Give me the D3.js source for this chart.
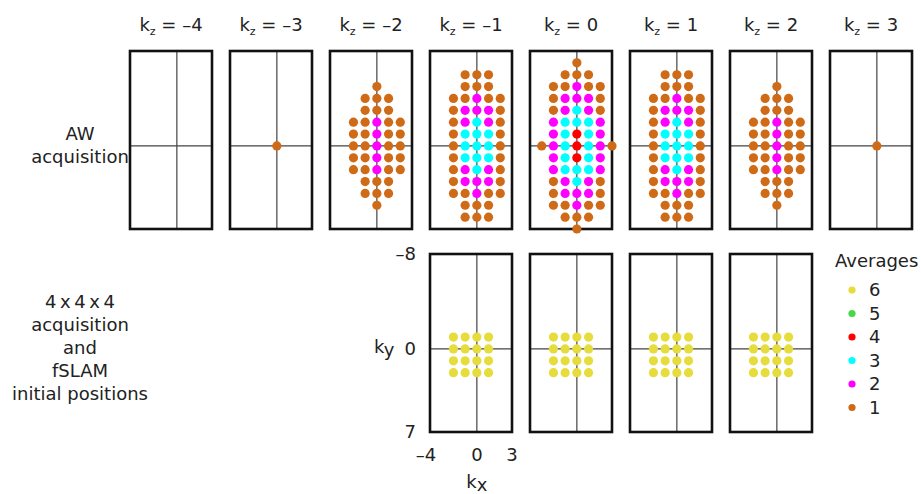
<!DOCTYPE html>
<html>
<head>
<meta charset="utf-8">
<script src="https://cdn.jsdelivr.net/npm/d3@7"></script>
<style>
  body { margin: 0; background: #fff; }
  svg text { font-family: "DejaVu Sans", Verdana, sans-serif; fill: #222; }
</style>
</head>
<body>
<main></main>
<script>
// k-space sampling
const kzValues = [-4, -3, -2, -1, 0, 1, 2, 3];
const kyRowsStart = -7;           // first row of every pattern is ky = -7
const kxColsStart = -3;           // first char of every row is kx = -3

// one string per ky row (-7..7), one char per kx (-3..3), digit = averages, '.' = none
const awEmpty = [
  '.......', '.......', '.......', '.......', '.......', '.......', '.......', '.......',
  '.......', '.......', '.......', '.......', '.......', '.......', '.......'
];
const awCenter = [
  '.......', '.......', '.......', '.......', '.......', '.......', '.......', '...1...',
  '.......', '.......', '.......', '.......', '.......', '.......', '.......'
];
const awOuter = [
  '.......', '.......', '...1...', '..111..', '..111..', '.11211.', '.11211.', '.11211.',
  '.11211.', '.11211.', '..111..', '..111..', '...1...', '.......', '.......'
];
const awInner = [
  '.......', '..111..', '..111..', '.11211.', '.12221.', '.12321.', '.13331.', '.13331.',
  '.13331.', '.12321.', '.12221.', '.11211.', '..111..', '..111..', '.......'
];
const awMiddle = [
  '...1...', '..111..', '.11211.', '.12221.', '.12321.', '.23332.', '.23432.', '1234321',
  '.23432.', '.23332.', '.12321.', '.12221.', '.11211.', '..111..', '...1...'
];
const awPatterns = [awEmpty, awCenter, awOuter, awInner, awMiddle, awInner, awOuter, awCenter];

// 4x4x4 acquisition / fSLAM initial positions
const fslamKz = [-1, 0, 1, 2];
const fslamKx = [-2, -1, 0, 1];
const fslamKy = [-1, 0, 1, 2];
const fslamAverages = 6;

const legendLevels = [6, 5, 4, 3, 2, 1];
const levelColors = ['#cf6a17', '#ff00ff', '#00ffff', '#ff0000', '#47d847', '#e6dc3b'];

const kxDomain = [-4, 3];
const kyDomain = [-8, 7];
const kxTicks = [-4, 0, 3];
const kyTicks = [-8, 0, 7];

const width = 921;
const height = 494;
const panelW = 82;
const panelH = 178;
const topY = 51;
const bottomY = 254;
const dotR = 4.6;
const fs = 18;

function toPoints(pattern) {
  const pts = [];
  pattern.forEach((row, r) => {
    row.split('').forEach((c, k) => {
      if (c !== '.') pts.push({ kx: kxColsStart + k, ky: kyRowsStart + r, avg: +c });
    });
  });
  return pts;
}

const svg = d3.select('main').append('svg')
    .attr('width', width)
    .attr('height', height);

const panelX = d3.scaleLinear().domain([-4, 3]).range([130, 830]);
const kx = d3.scaleLinear().domain(kxDomain).range([0, panelW]);
const ky = d3.scaleLinear().domain(kyDomain).range([0, panelH]);
const color = d3.scaleOrdinal().domain([1, 2, 3, 4, 5, 6]).range(levelColors);

function drawPanel(g, points) {
  g.append('line')
      .attr('x1', kx(0)).attr('x2', kx(0))
      .attr('y1', 0).attr('y2', panelH)
      .attr('stroke', '#444').attr('stroke-width', 1.2);
  g.append('line')
      .attr('x1', 0).attr('x2', panelW)
      .attr('y1', ky(0)).attr('y2', ky(0))
      .attr('stroke', '#444').attr('stroke-width', 1.2);
  g.append('rect')
      .attr('width', panelW).attr('height', panelH)
      .attr('fill', 'none')
      .attr('stroke', '#111')
      .attr('stroke-width', 2.6);
  g.selectAll('circle')
    .data(points)
    .enter().append('circle')
      .attr('cx', d => kx(d.kx))
      .attr('cy', d => ky(d.ky))
      .attr('r', dotR)
      .attr('fill', d => color(d.avg));
}

// column titles
kzValues.forEach(kz => {
  const t = svg.append('text')
      .attr('x', panelX(kz) + panelW / 2)
      .attr('y', 31)
      .attr('text-anchor', 'middle')
      .attr('font-size', fs);
  t.append('tspan').text('k');
  t.append('tspan').text('z').attr('font-size', 11).attr('dy', 4);
  t.append('tspan').text(' = ' + (kz < 0 ? '\u2013' + Math.abs(kz) : kz)).attr('dy', -4);
});

// top row: AW acquisition
kzValues.forEach((kz, i) => {
  const g = svg.append('g').attr('transform', `translate(${panelX(kz)},${topY})`);
  drawPanel(g, toPoints(awPatterns[i]));
});

// bottom row: 4x4x4 grid
const gridPoints = [];
fslamKy.forEach(y => fslamKx.forEach(x => gridPoints.push({ kx: x, ky: y, avg: fslamAverages })));
fslamKz.forEach(kz => {
  const g = svg.append('g').attr('transform', `translate(${panelX(kz)},${bottomY})`);
  drawPanel(g, gridPoints);
});

// row labels
const rowLabel = (lines, y0) => {
  svg.append('g').selectAll('text')
    .data(lines)
    .enter().append('text')
      .attr('x', 80)
      .attr('y', (d, i) => y0 + i * 23)
      .attr('text-anchor', 'middle')
      .attr('font-size', fs)
      .text(d => d);
};
rowLabel(['AW', 'acquisition'], 140);
rowLabel(['4\u2009x\u20094\u2009x\u20094', 'acquisition', 'and', 'fSLAM', 'initial positions'], 308);

// axis ticks for the first bottom panel
const ax = panelX(fslamKz[0]);
svg.append('g').selectAll('text')
  .data(kyTicks)
  .enter().append('text')
    .attr('x', ax - 14)
    .attr('y', d => bottomY + ky(d) + 6)
    .attr('text-anchor', 'end')
    .attr('font-size', fs)
    .text(d => d < 0 ? '\u2013' + Math.abs(d) : d);
svg.append('g').selectAll('text')
  .data(kxTicks)
  .enter().append('text')
    .attr('x', d => ax + kx(d) - (d < 0 ? 4 : 0))
    .attr('y', bottomY + panelH + 29)
    .attr('text-anchor', 'middle')
    .attr('font-size', fs)
    .text(d => d < 0 ? '\u2013' + Math.abs(d) : d);

const kyLabel = svg.append('text')
    .attr('x', ax - 56)
    .attr('y', bottomY + ky(0) + 4)
    .attr('font-size', fs);
kyLabel.append('tspan').text('k');
kyLabel.append('tspan').text('y').attr('dy', 3);

const kxLabel = svg.append('text')
    .attr('x', ax + kx(0))
    .attr('y', bottomY + panelH + 56)
    .attr('text-anchor', 'middle')
    .attr('font-size', fs);
kxLabel.append('tspan').text('k');
kxLabel.append('tspan').text('x').attr('dy', 3);

// legend
const legend = svg.append('g').attr('transform', 'translate(835,0)');
legend.append('text')
    .attr('x', 0).attr('y', 267)
    .attr('font-size', fs)
    .text('Averages');
const item = legend.selectAll('.item')
  .data(legendLevels)
  .enter().append('g')
    .attr('class', 'item')
    .attr('transform', (d, i) => `translate(0,${290 + i * 23.5})`);
item.append('circle')
    .attr('cx', 17).attr('cy', 0).attr('r', 3.6)
    .attr('fill', d => color(d));
item.append('text')
    .attr('x', 34).attr('y', 6)
    .attr('font-size', fs)
    .text(d => d);
</script>
</body>
</html>
